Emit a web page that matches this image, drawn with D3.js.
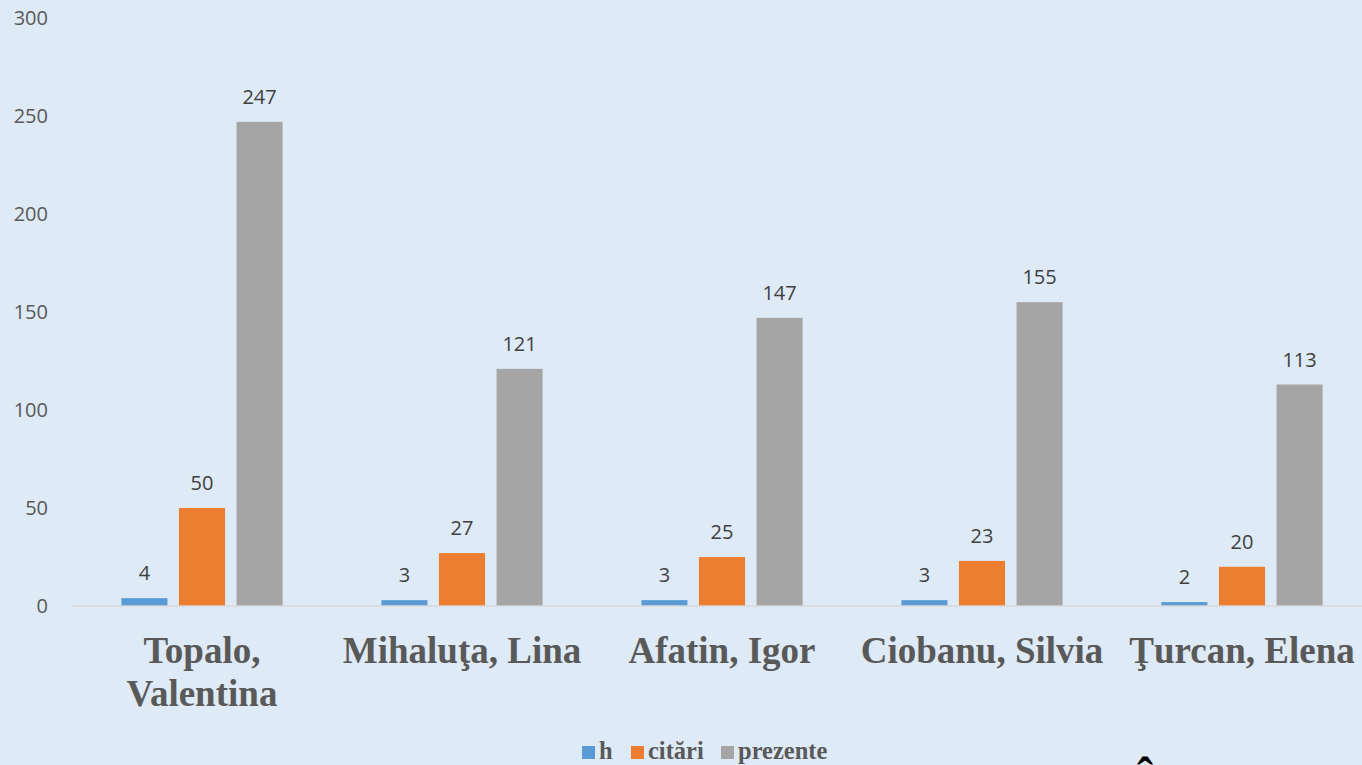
<!DOCTYPE html>
<html>
<head>
<meta charset="utf-8">
<script src="https://cdn.jsdelivr.net/npm/d3@7"></script>
<style>
  body { margin: 0; background: #deeaf6; }
  svg { display: block; }
</style>
</head>
<body>
<div id="chart"></div>
<script>
// Data
const categories = ["Topalo, Valentina", "Mihaluţa, Lina", "Afatin, Igor", "Ciobanu, Silvia", "Ţurcan, Elena"];
const seriesNames = ["h", "citări", "prezente"];
const hValues = [4, 3, 3, 3, 2];
const citariValues = [50, 27, 25, 23, 20];
const prezenteValues = [247, 121, 147, 155, 113];
const yTicks = [0, 50, 100, 150, 200, 250, 300];
const colors = ["#5b9bd5", "#ed7d31", "#a5a5a5"];

const W = 1362, H = 765;
const rows = categories.map((c, i) => ({
    cat: c,
    vals: [hValues[i], citariValues[i], prezenteValues[i]]
}));

const svg = d3.select("#chart").append("svg")
    .attr("width", W).attr("height", H);

svg.append("rect").attr("width", W).attr("height", H).attr("fill", "#deeaf6");

// Scales
const x0 = d3.scaleBand().domain(categories).range([72, 1372])
    .paddingInner(0.38).paddingOuter(0.19);
const x1 = d3.scaleBand().domain(seriesNames).range([0, x0.bandwidth()])
    .paddingInner(0.2);
const y = d3.scaleLinear().domain([0, 300]).range([606, 18]);

// Y tick labels
svg.append("g").selectAll("text")
    .data(yTicks)
    .join("text")
    .attr("x", 48)
    .attr("y", d => y(d))
    .attr("dy", "0.35em")
    .attr("text-anchor", "end")
    .style("font-family", "'Open Sans', sans-serif")
    .style("font-size", "20px")
    .style("fill", "#595959")
    .text(d => d);

// Bars
const groups = svg.append("g").selectAll("g")
    .data(rows)
    .join("g")
    .attr("transform", d => `translate(${x0(d.cat)},0)`);

groups.selectAll("rect")
    .data(d => d.vals.map((v, i) => ({ key: seriesNames[i], v, i })))
    .join("rect")
    .attr("x", d => x1(d.key))
    .attr("y", d => y(d.v))
    .attr("width", x1.bandwidth())
    .attr("height", d => y(0) - y(d.v))
    .attr("fill", d => colors[d.i]);

groups.selectAll("text")
    .data(d => d.vals.map((v, i) => ({ key: seriesNames[i], v, i })))
    .join("text")
    .attr("x", d => x1(d.key) + x1.bandwidth() / 2)
    .attr("y", d => y(d.v) - 18)
    .attr("text-anchor", "middle")
    .style("font-family", "'Open Sans', sans-serif")
    .style("font-size", "20px")
    .style("fill", "#404040")
    .text(d => d.v);

// Baseline
svg.append("line")
    .attr("x1", 72).attr("x2", W)
    .attr("y1", y(0)).attr("y2", y(0))
    .attr("stroke", "#d9d9d9").attr("stroke-width", 1.5);

// Category labels (wrap when too wide)
const catLabels = svg.append("g").selectAll("text")
    .data(categories)
    .join("text")
    .attr("x", d => x0(d) + x0.bandwidth() / 2)
    .attr("y", 663)
    .attr("text-anchor", "middle")
    .style("font-family", "'Liberation Serif', 'Times New Roman', serif")
    .style("font-weight", "bold")
    .style("font-size", "37px")
    .style("fill", "#595959")
    .text(d => d);

catLabels.each(function(d) {
    const t = d3.select(this);
    if (this.getComputedTextLength() > 258) {
        const parts = d.split(" ");
        const cx = t.attr("x");
        t.text(null);
        t.append("tspan").attr("x", cx).text(parts[0]);
        t.append("tspan").attr("x", cx).attr("dy", 43).text(parts.slice(1).join(" "));
    }
});

// Legend
const legendX = [582, 631, 721];
const legend = svg.append("g").selectAll("g")
    .data(seriesNames)
    .join("g")
    .attr("transform", (d, i) => `translate(${legendX[i]},746)`);
legend.append("rect").attr("width", 13).attr("height", 13)
    .attr("fill", (d, i) => colors[i]);
legend.append("text")
    .attr("x", 17).attr("y", 13)
    .style("font-family", "'Liberation Serif', 'Times New Roman', serif")
    .style("font-weight", "bold")
    .style("font-size", "24.5px")
    .style("fill", "#595959")
    .text(d => d);

// Stray glyph cut off at the bottom edge (only its accent shows)
svg.append("text")
    .attr("x", 1145).attr("y", 799)
    .attr("text-anchor", "middle")
    .style("font-family", "'Liberation Serif', serif")
    .style("font-weight", "bold")
    .style("font-size", "48px")
    .style("fill", "#000")
    .text("Î");
</script>
</body>
</html>
